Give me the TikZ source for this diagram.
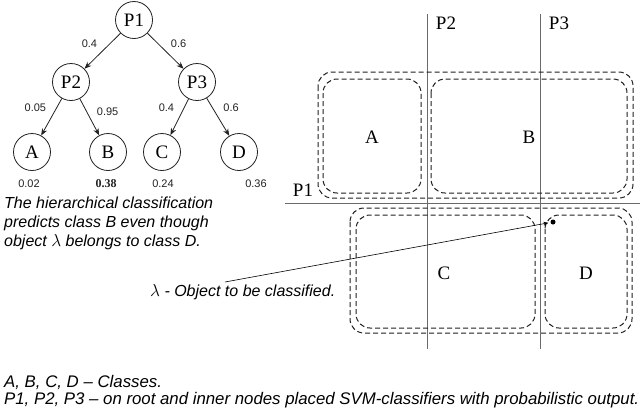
\documentclass[tikz,border=0pt]{standalone}
\usepackage{fontspec}
\setmainfont{Liberation Serif}
\newfontfamily\notefont{Liberation Sans}
\usetikzlibrary{arrows.meta,positioning,calc}
\definecolor{ink}{HTML}{222222}
\definecolor{splitgray}{HTML}{6A6A6A}
\definecolor{dashink}{HTML}{1E1E1E}
\tikzset{
  treenode/.style={circle,draw=ink,line width=0.8pt,minimum size=37pt,inner sep=0pt,
    font=\rmfamily\fontsize{19}{21}\selectfont},
  probtext/.style={font=\notefont\fontsize{11}{12}\selectfont,text=ink,inner sep=1pt},
  boldprob/.style={font=\rmfamily\bfseries\fontsize{12}{12}\selectfont,text=ink,inner sep=1pt},
  treearr/.style={-{Stealth[length=7pt,width=5.5pt]},line width=0.8pt,color=ink},
  objarr/.style={-{Stealth[length=5pt,width=4pt]},line width=0.6pt,color=black,shorten >=2pt},
  splitline/.style={line width=1pt,color=splitgray},
  regionbox/.style={draw=dashink,line width=1pt,dash pattern=on 5pt off 3pt,rounded corners=14pt},
  classlabel/.style={font=\rmfamily\fontsize{19}{21}\selectfont,inner sep=0pt},
  notetext/.style={font=\notefont\itshape\fontsize{16}{19}\selectfont,align=left,inner sep=0pt},
}

\begin{document}
\begin{tikzpicture}[x=1pt,y=-1pt]
  \useasboundingbox (0,0) rectangle (642,416);

  % classifier tree
  \node[treenode] (p1) at (134,20) {P1};
  \node[treenode] (p2) at (71,82) {P2};
  \node[treenode] (p3) at (197,82) {P3};
  \node[treenode] (a) at (32,152) {A};
  \node[treenode] (b) at (108,152) {B};
  \node[treenode] (c) at (162,152) {C};
  \node[treenode] (d) at (239,152) {D};

  \draw[treearr] (p1) -- node[probtext,above left=2pt and 4pt]{0.4} (p2);
  \draw[treearr] (p1) -- node[probtext,above right=2pt and 4pt]{0.6} (p3);
  \draw[treearr] (p2) -- node[probtext,above left=4pt and 4pt]{0.05} (a);
  \draw[treearr] (p2) -- node[probtext,above right=0pt and 6pt]{0.95} (b);
  \draw[treearr] (p3) -- node[probtext,above left=4pt and 4pt]{0.4} (c);
  \draw[treearr] (p3) -- node[probtext,above right=4pt and 4pt]{0.6} (d);

  \node[probtext] (pa) at (29,184) {0.02};
  \node[boldprob] (pb) at (106,184) {0.38};
  \node[probtext] (pc) at (163,184) {0.24};
  \node[probtext] (pd) at (256,184) {0.36};

  \node[notetext,anchor=north west] (treenote) at (4,197)
    {The hierarchical classification\\predicts class B even though\\object $\lambda$ belongs to class D.};

  % feature space
  \draw[splitline] (285,203) -- (640,203);
  \draw[splitline] (427,14) -- (427,349);
  \draw[splitline] (540,14) -- (540,349);
  \node[classlabel] (s1) at (303,190) {P1};
  \node[classlabel] (s2) at (446,23) {P2};
  \node[classlabel] (s3) at (559,23) {P3};

  \draw[regionbox] (318,72) rectangle (633,198);
  \draw[regionbox] (323,79) rectangle (421,193);
  \draw[regionbox] (431,79) rectangle (627,193);
  \draw[regionbox] (350,208) rectangle (632,333);
  \draw[regionbox] (356,215) rectangle (535,328);
  \draw[regionbox] (545,215) rectangle (627,328);

  \node[classlabel] (ra) at (372,137) {A};
  \node[classlabel] (rb) at (529,137) {B};
  \node[classlabel] (rc) at (444,273) {C};
  \node[classlabel] (rd) at (586,273) {D};

  \node[circle,fill=black,inner sep=0pt,minimum size=5pt] (obj) at (553,222) {};
  \node[notetext,anchor=west] (objnote) at (150,292) {$\lambda$ - Object to be classified.};
  \coordinate (tail) at (225,282);
  \draw[objarr] (tail) -- (obj);

  % legend
  \node[notetext,anchor=north west,font=\notefont\itshape\fontsize{16.8}{17}\selectfont] (legend) at (4,375)
    {A, B, C, D – Classes.\\P1, P2, P3 – on root and inner nodes placed SVM-classifiers with probabilistic output.};
\end{tikzpicture}
\end{document}
